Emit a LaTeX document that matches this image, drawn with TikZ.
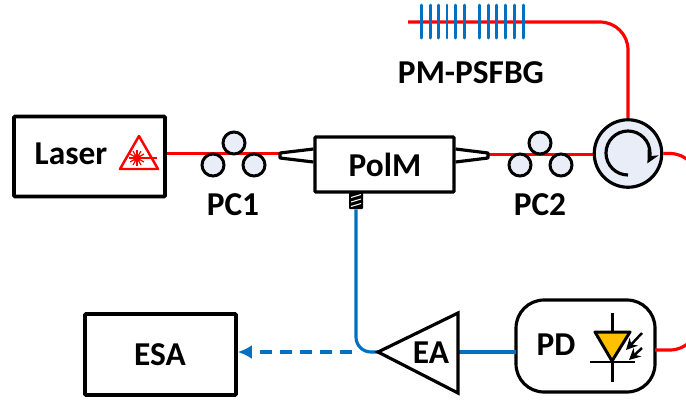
\documentclass[tikz,border=0pt]{standalone}
\usepackage{fontspec}
\setmainfont{Carlito}
\usetikzlibrary{arrows.meta}
\definecolor{fibred}{HTML}{FF0000}
\definecolor{fibblue}{HTML}{0070C0}
\definecolor{rollfill}{HTML}{E8EDF7}
\definecolor{diodefill}{HTML}{FFC000}
\begin{document}
\begin{tikzpicture}[x=.02cm,y=-.02cm,
  redfib/.style={draw=fibred,line width=1.8pt},
  bluefib/.style={draw=fibblue,line width=1.8pt},
  block/.style={draw,line width=2.1pt,inner sep=0pt,rounded corners=.5pt},
  roller/.style={draw,circle,fill=rollfill,line width=1.7pt,inner sep=0pt,minimum size=.44cm},
  lbl/.style={inner sep=0pt,font=\fontsize{19}{19}\selectfont\bfseries}]
\clip (0,0) rectangle (686,400);
\node[block,minimum width=3.02cm,minimum height=1.6cm] (laser) at (89.5,156.5) {};
\node[block,line width=1.8pt,minimum width=2.78cm,minimum height=1.1cm] (polm) at (384.5,164.5) {};
\node[block,minimum width=3.02cm,minimum height=1.62cm] (esa) at (160.5,354.5) {};
\node[block,line width=1.8pt,rounded corners=.56cm,minimum width=2.78cm,minimum height=1.84cm] (pd) at (585.5,346) {};
\node[draw,circle,fill=rollfill,line width=1.8pt,inner sep=0pt,minimum size=1.35cm] (circ) at (628,153.5) {};
\coordinate (tipl) at (280,155.5);
\coordinate (tipr) at (488,155.5);
\coordinate (fbg) at (408,22);
\coordinate (turn) at (698,250);
\coordinate (pdout) at (655,350);
\coordinate (pdin) at (516,352);
\coordinate (eatip) at (378,352);
\coordinate (eaback) at (458,352);
\coordinate (bend) at (352,352);
\node[fill=black,rounded corners=.5pt,inner sep=0pt,minimum width=.28cm,minimum height=.34cm] (rf) at (356,200.5) {};
\foreach \y in {196,200.5,205} \draw[white,line width=.6pt] (351,\y+1.5) -- (361,\y-1.5);
\draw[redfib] (laser.east |- 0,153.5) -- (tipl |- 0,153.5);
\draw[redfib] (tipr |- 0,154.5) -- (circ.west |- 0,154.5);
\draw[redfib,rounded corners=.56cm] (fbg) -| (circ.north);
\draw[redfib,rounded corners=.56cm] (circ.east) -| (turn) |- (pdout);
\draw[bluefib] (eaback) -- (pdin);
\draw[bluefib,rounded corners=.3cm] (rf.south) |- (eatip);
\draw[bluefib,dash pattern=on 6.8pt off 4.6pt,-{Latex[length=8pt,width=8pt]}] (bend) -- (esa.east |- bend);
\foreach \x in {421.7,430.3,438.7,447,455.7,464.7,479.3,488,496.7,505.3,514,523}
  \draw[fibblue,line width=1.7pt,line cap=round] (\x,5) -- (\x,38);
\node[roller] (pca) at (234,143) {};
\node[roller] (pcb) at (213,165) {};
\node[roller] (pcc) at (254,165) {};
\node[roller] (pcd) at (540,143) {};
\node[roller] (pce) at (520,165) {};
\node[roller] (pcf) at (561,165) {};
\draw[line width=1.8pt,line join=round] (polm.west |- 0,149) -- (tipl |- 0,153) -- (tipl |- 0,158) -- (polm.west |- 0,162);
\draw[line width=1.8pt,line join=round] (polm.east |- 0,149) -- (tipr |- 0,153) -- (tipr |- 0,158) -- (polm.east |- 0,162);
\draw[line width=1.8pt,line join=miter] (eatip) -- (458,313) -- (458,393) -- cycle;
\draw[line width=1.8pt,-{Stealth[length=7pt,width=7pt]}] (628,175) arc[start angle=90,end angle=388,radius=22];
\draw[fibred,line width=1.4pt,line join=round] (139,136) -- (158,169) -- (120,169) -- cycle;
\node[circle,fill=fibred,inner sep=0pt,minimum size=.15cm] (spot) at (137,158) {};
\foreach \a in {0,30,...,330} \draw[fibred,line width=.7pt] (spot.center) -- ++(\a:8);
\draw[fibred,line width=.7pt] (spot.center) -- (157,158);
\draw[line width=1.7pt] (612,313) -- (612,382);
\draw[line width=1.7pt,fill=diodefill,line join=round] (595,332) -- (630,332) -- (612,361) -- cycle;
\draw[line width=1.5pt] (590,362) -- (635,362);
\draw[line width=1.4pt,-{Stealth[length=6.5pt,width=6.5pt]}] (642,333) -- (626,350);
\draw[line width=1.4pt,-{Stealth[length=6.5pt,width=6.5pt]}] (642,348) -- (629,360);
\node[lbl] (laserl) at (71,154) {Laser};
\node[lbl] (polml) at (385,165) {PolM};
\node[lbl] (pc1) at (233,205) {PC1};
\node[lbl] (pc2) at (540,205) {PC2};
\node[lbl] (psfbg) at (471,73) {PM-PSFBG};
\node[lbl] (esal) at (160,355) {ESA};
\node[lbl] (eal) at (431,353) {EA};
\node[lbl] (pdl) at (556,345) {PD};
\end{tikzpicture}
\end{document}
